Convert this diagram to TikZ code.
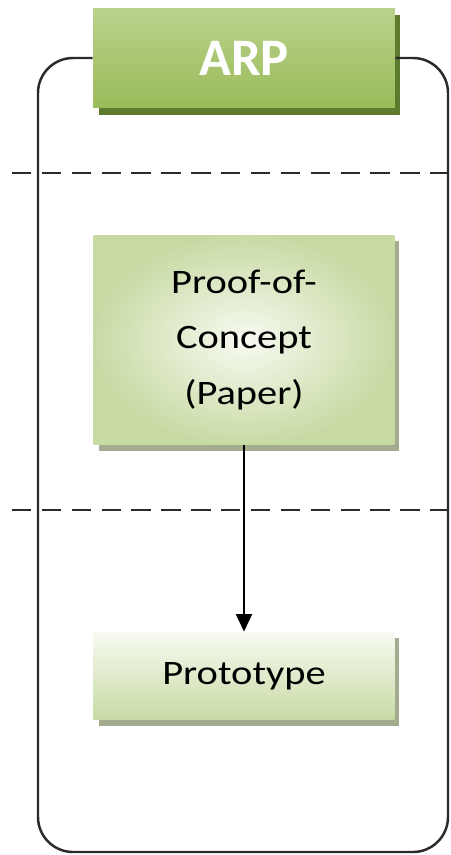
\documentclass[tikz,border=0pt]{standalone}
\usepackage{fontspec}
\setmainfont{Carlito}
\newfontfamily\widefont[FakeStretch=1.18]{Carlito}
\usetikzlibrary{arrows.meta, shadows}
\definecolor{arpgreen}{HTML}{9BBB59}
\definecolor{arplight}{HTML}{B9D28C}
\definecolor{arpshade}{HTML}{5E7A2F}
\definecolor{paleedge}{HTML}{C8DAA4}
\definecolor{palecore}{HTML}{F7FAF1}
\definecolor{paleshade}{HTML}{A4AC90}
\definecolor{framegrey}{HTML}{2A2A2A}
\tikzset{
  headbox/.style = {
    top color=arplight, bottom color=arpgreen, draw=none,
    minimum width=6.04cm, minimum height=2cm, inner sep=0pt,
    text=white, font=\fontsize{30}{32}\selectfont\bfseries,
    drop shadow={shadow xshift=0.11cm, shadow yshift=-0.14cm, fill=arpshade, opacity=1}
  },
  stagebox/.style = {
    draw=none, minimum width=6.02cm, inner sep=0pt, align=center,
    font=\widefont\fontsize{19.5}{31.7}\selectfont,
    drop shadow={shadow xshift=0.1cm, shadow yshift=-0.12cm, fill=paleshade, opacity=1}
  },
  frame/.style = {draw=framegrey, line width=1.4pt, rounded corners=0.7cm},
  separator/.style = {draw=framegrey, line width=1.3pt, dash pattern=on 11pt off 6pt},
  flow/.style = {line width=1.4pt, -{Triangle[width=9pt, length=10pt]}}
}

\begin{document}
\begin{tikzpicture}[x=0.02cm, y=-0.02cm]
    \useasboundingbox (0,0) rectangle (450,855);

    % Separators
    \draw[separator] (12,173) -- (450,173);
    \draw[separator] (12,510) -- (450,510);

    % Stages
    \node[stagebox, minimum height=4.2cm, inner color=palecore, outer color=paleedge]
        (proof) at (244,340) {Proof-of-\\Concept\\(Paper)};
    \node[stagebox, minimum height=1.76cm, top color=palecore, bottom color=paleedge]
        (proto) at (244,676) {Prototype};

    % Header
    \node[headbox] (arp) at (244,58) {ARP};

    % Frame
    \draw[frame] (arp.west) -- (38,58) -- (38,852) -- (448,852) -- (448,58) -- (arp.east);

    % Flow
    \draw[flow] (proof) -- (proto);

\end{tikzpicture}
\end{document}
